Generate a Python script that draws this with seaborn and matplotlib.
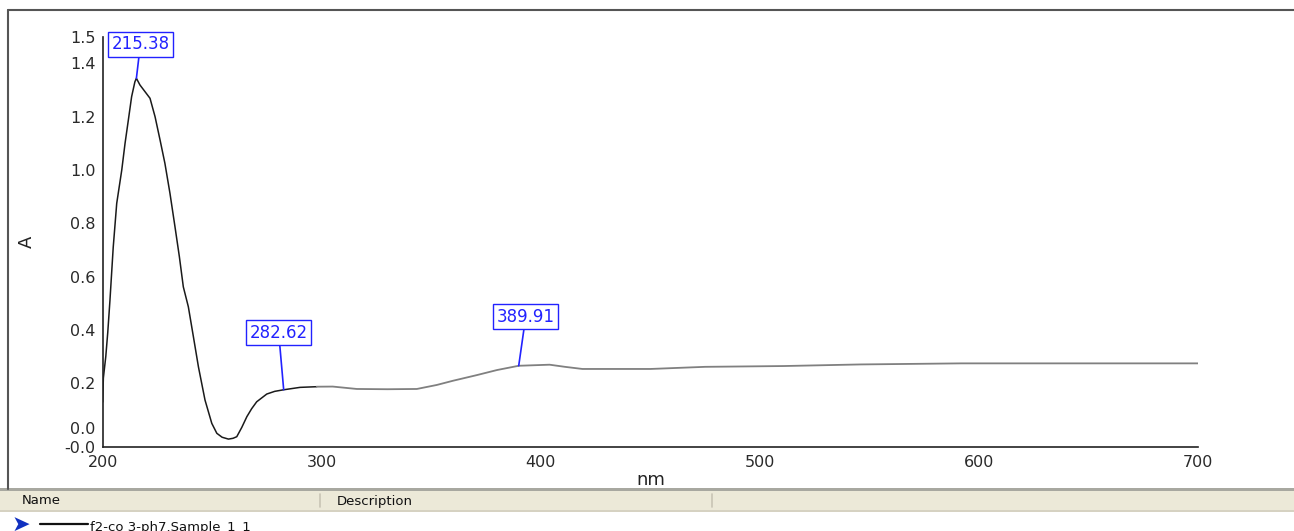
import numpy as np
import pandas as pd
import matplotlib
matplotlib.use("Agg")
import matplotlib.pyplot as plt
from matplotlib.patches import Rectangle
from matplotlib.lines import Line2D
import seaborn as sns

# ---- data ----
wavelength_nm = [200.0, 200.3, 201.4, 202.3, 203.3, 204.8, 206.4, 208.7, 210.2, 211.7,
                 213.2, 214.7, 215.38, 217.0, 221.6, 223.9, 226.2, 228.4, 230.7, 233.0,
                 235.0, 236.8, 239.1, 241.4, 243.7, 246.7, 249.8, 252.1, 254.5, 257.4,
                 259.5, 261.2, 263.5, 265.8, 268.0, 270.3, 274.9, 278.5, 282.62, 290.1,
                 297.7, 305.0, 316.0, 330.0, 343.4, 352.5, 360.0, 370.8, 380.0, 389.91,
                 404.0, 411.0, 419.0, 450.0, 475.0, 511.0, 546.0, 592.0, 650.0, 700.0]
absorbance = [0.13, 0.22, 0.30, 0.39, 0.51, 0.71, 0.875, 1.00, 1.10, 1.187,
              1.275, 1.331, 1.344, 1.319, 1.269, 1.20, 1.112, 1.025, 0.913, 0.787,
              0.675, 0.562, 0.487, 0.375, 0.262, 0.1375, 0.05, 0.0127, -0.002, -0.009,
              -0.006, 0.0, 0.035, 0.075, 0.105, 0.131, 0.16, 0.170, 0.176, 0.185,
              0.1875, 0.188, 0.179, 0.178, 0.179, 0.194, 0.21, 0.231, 0.25, 0.266,
              0.270, 0.262, 0.254, 0.254, 0.262, 0.265, 0.271, 0.275, 0.275, 0.275]
peak_labels_nm = [215.38, 282.62, 389.91]
x_ticks = [200, 300, 400, 500, 600, 700]
x_tick_labels = ["200", "300", "400", "500", "600", "700"]
y_ticks = [-0.0375, 0.0, 0.2, 0.4, 0.6, 0.8, 1.0, 1.2, 1.4, 1.5]
y_tick_labels = ["-0.0", "0.0", "0.2", "0.4", "0.6", "0.8", "1.0", "1.2", "1.4", "1.5"]
legend_sample = "f2-co 3-ph7.Sample_1_1"

df = pd.DataFrame({"nm": wavelength_nm, "A": absorbance})

sns.set_theme(style="white")
plt.rcParams["font.family"] = ["DejaVu Sans"]

W, H = 1294, 531
fig = plt.figure(figsize=(W / 100, H / 100), dpi=100)
fig.patch.set_facecolor("white")

def fx(px):
    return px / W

def fy(py):
    return 1 - py / H

ax_left, ax_right, ax_top, ax_bottom = 102.7, 1198.0, 36.7, 446.7
ax = fig.add_axes([fx(ax_left), fy(ax_bottom), fx(ax_right - ax_left), (ax_bottom - ax_top) / H])
ax.set_facecolor("white")

left_part = df[df["nm"] <= 300]
right_part = df[df["nm"] >= 297.7]
sns.lineplot(data=left_part, x="nm", y="A", ax=ax, color="#1a1a1a", lw=1.1, sort=False)
sns.lineplot(data=right_part, x="nm", y="A", ax=ax, color="#808080", lw=1.3, sort=False)

ax.set_xlim(200, 700)
ax.set_ylim(-0.0375, 1.5)
ax.set_xticks(x_ticks)
ax.set_xticklabels(x_tick_labels)
ax.set_yticks(y_ticks)
ax.set_yticklabels(y_tick_labels)
ax.tick_params(axis="both", direction="out", length=4, width=1, color="#222222",
               labelsize=11.5, labelcolor="#2a2a2a", pad=1)
ax.tick_params(axis="x", pad=2)
for lab in ax.get_yticklabels():
    if lab.get_text() == "0.0":
        lab.set_va("bottom")
for s in ["top", "right"]:
    ax.spines[s].set_visible(False)
for s in ["left", "bottom"]:
    ax.spines[s].set_color("#222222")
    ax.spines[s].set_linewidth(1.2)
ax.set_xlabel("nm", fontsize=13, color="#222222", labelpad=1)
ax.set_ylabel("A", fontsize=13, color="#222222", labelpad=21)
ax.grid(False)

# peak labels
offsets = [(4, 34), (-5, 57), (7, 49)]
for pk, (dx, dy) in zip(peak_labels_nm, offsets):
    a = float(np.interp(pk, wavelength_nm, absorbance))
    ax.annotate(f"{pk:.2f}", xy=(pk, a), xytext=(dx, dy), textcoords="offset pixels",
                ha="center", va="center", fontsize=12, color="#2222ff",
                bbox=dict(boxstyle="square,pad=0.2", fc="white", ec="#2222ff", lw=1.0),
                arrowprops=dict(arrowstyle="-", color="#2222ff", lw=1.2,
                                shrinkA=0, shrinkB=0))

# outer frame of chart panel
fig.add_artist(Line2D([fx(8), fx(8)], [fy(10), fy(489)], color="#555555", lw=1.5))
fig.add_artist(Line2D([fx(8), fx(W)], [fy(10), fy(10)], color="#555555", lw=1.5))

# bottom list header
fig.add_artist(Rectangle((0, fy(491)), 1, (491 - 488) / H, transform=fig.transFigure,
                         fc="#a8a8a0", ec="none"))
fig.add_artist(Rectangle((0, fy(510)), 1, (510 - 491) / H, transform=fig.transFigure,
                         fc="#ece9d8", ec="none"))
fig.add_artist(Rectangle((0, fy(512)), 1, 2 / H, transform=fig.transFigure,
                         fc="#d6d2c2", ec="none"))
for sx in [320, 712]:
    fig.add_artist(Line2D([fx(sx), fx(sx)], [fy(494), fy(507)], color="#c8c4b4", lw=1.2))
fig.text(fx(22), fy(501), "Name", fontsize=9.5, color="#111111", va="center", ha="left")
fig.text(fx(337), fy(501), "Description", fontsize=9.5, color="#111111", va="center", ha="left")

# legend row
fig.text(fx(12), fy(525), "\u27a4", fontsize=16, color="#1030c0", va="center", ha="left",
         family=["DejaVu Sans"])
fig.add_artist(Line2D([fx(40), fx(88)], [fy(524), fy(524)], color="#111111", lw=1.6))
fig.text(fx(90), fy(527), legend_sample, fontsize=9.5, color="#111111", va="center", ha="left")

fig.savefig("out.png", dpi=100, facecolor="white")
